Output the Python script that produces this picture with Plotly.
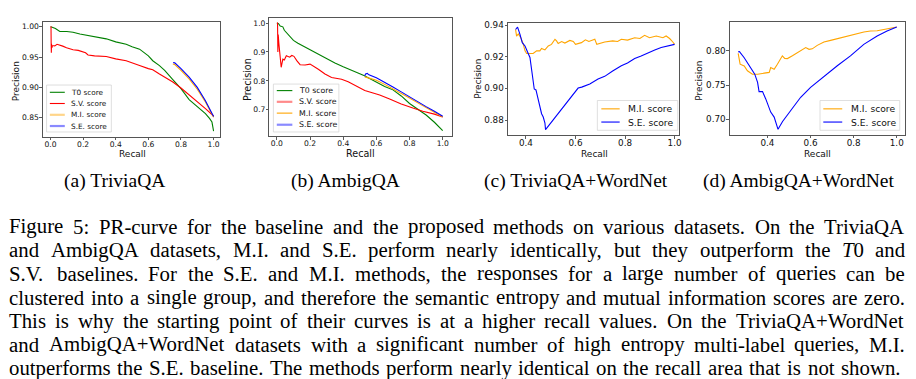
import plotly.graph_objects as go

W, H = 916, 379

# ---------------- data ----------------
a_t0_recall = [0.0, 0.005, 0.01, 0.03, 0.057, 0.1, 0.138, 0.18, 0.22, 0.26, 0.3, 0.342, 0.4, 0.464, 0.5, 0.546, 0.6, 0.627, 0.668, 0.7, 0.75, 0.8, 0.85, 0.9, 0.95, 0.975, 0.99, 1.0]
a_t0_precision = [1.0, 1.0, 0.999, 0.997, 0.992, 0.992, 0.991, 0.988, 0.986, 0.984, 0.982, 0.980, 0.975, 0.971, 0.967, 0.963, 0.952, 0.944, 0.936, 0.928, 0.913, 0.898, 0.880, 0.868, 0.857, 0.849, 0.843, 0.828]
a_sv_recall = [0.0, 0.003, 0.004, 0.005, 0.006, 0.008, 0.012, 0.026, 0.04, 0.057, 0.075, 0.098, 0.12, 0.138, 0.17, 0.2, 0.215, 0.23, 0.27, 0.342, 0.4, 0.464, 0.5, 0.546, 0.6, 0.627, 0.668, 0.7, 0.75, 0.8, 0.85, 0.9, 0.95, 1.0]
a_sv_precision = [1.0, 1.0, 0.97, 0.957, 0.972, 0.965, 0.969, 0.9685, 0.971, 0.970, 0.968, 0.9655, 0.963, 0.962, 0.961, 0.959, 0.957, 0.9535, 0.952, 0.951, 0.947, 0.944, 0.940, 0.936, 0.931, 0.929, 0.922, 0.917, 0.909, 0.899, 0.888, 0.876, 0.865, 0.853]
a_mi_recall = [0.75, 0.76, 0.8, 0.85, 0.9, 0.95, 1.0]
a_mi_precision = [0.9385, 0.938, 0.928, 0.914, 0.897, 0.876, 0.851]
a_se_recall = [0.752, 0.762, 0.8, 0.85, 0.9, 0.95, 1.0]
a_se_precision = [0.941, 0.9405, 0.931, 0.917, 0.900, 0.878, 0.852]

b_t0_recall = [0.0, 0.01, 0.02, 0.036, 0.045, 0.057, 0.07, 0.087, 0.1, 0.127, 0.15, 0.2, 0.227, 0.25, 0.3, 0.328, 0.35, 0.4, 0.428, 0.45, 0.5, 0.528, 0.55, 0.6, 0.63, 0.65, 0.7, 0.75, 0.8, 0.85, 0.88, 0.9, 0.95, 1.0]
b_t0_precision = [1.0, 0.998, 0.99, 0.987, 0.975, 0.967, 0.96, 0.95, 0.94, 0.93, 0.923, 0.906, 0.898, 0.891, 0.877, 0.869, 0.862, 0.849, 0.843, 0.836, 0.825, 0.818, 0.811, 0.797, 0.787, 0.781, 0.769, 0.748, 0.722, 0.703, 0.692, 0.682, 0.657, 0.628]
b_sv_recall = [0.0, 0.004, 0.006, 0.008, 0.012, 0.018, 0.026, 0.036, 0.045, 0.057, 0.077, 0.09, 0.103, 0.12, 0.14, 0.17, 0.2, 0.25, 0.29, 0.33, 0.39, 0.43, 0.47, 0.53, 0.58, 0.62, 0.68, 0.75, 0.82, 0.88, 0.95, 1.0]
b_sv_precision = [1.0, 1.0, 0.90, 0.96, 0.93, 0.88, 0.847, 0.875, 0.872, 0.887, 0.882, 0.888, 0.885, 0.87, 0.856, 0.855, 0.858, 0.840, 0.824, 0.812, 0.806, 0.797, 0.785, 0.767, 0.758, 0.751, 0.737, 0.72, 0.706, 0.695, 0.685, 0.675]
b_mi_recall = [0.53, 0.54, 0.56, 0.6, 0.65, 0.7, 0.75, 0.8, 0.85, 0.9, 0.95, 1.0]
b_mi_precision = [0.814, 0.812, 0.808, 0.802, 0.788, 0.773, 0.758, 0.741, 0.724, 0.708, 0.692, 0.675]
b_se_recall = [0.53, 0.535, 0.545, 0.555, 0.6, 0.65, 0.7, 0.75, 0.8, 0.85, 0.9, 0.95, 1.0]
b_se_precision = [0.818, 0.824, 0.826, 0.821, 0.811, 0.796, 0.779, 0.762, 0.744, 0.727, 0.711, 0.695, 0.678]

c_mi_recall = [0.358, 0.362, 0.369, 0.379, 0.389, 0.396, 0.4026, 0.416, 0.429, 0.443, 0.456, 0.463, 0.4765, 0.49, 0.503, 0.517, 0.5235, 0.53, 0.544, 0.557, 0.577, 0.591, 0.6, 0.624, 0.64, 0.654, 0.678, 0.686, 0.718, 0.75, 0.77, 0.785, 0.81, 0.839, 0.86, 0.879, 0.899, 0.926, 0.953, 0.966, 0.98, 0.993, 1.0]
c_mi_precision = [0.9372, 0.933, 0.9344, 0.932, 0.928, 0.9237, 0.922, 0.9222, 0.922, 0.9237, 0.9237, 0.9252, 0.9243, 0.9268, 0.9278, 0.931, 0.930, 0.9283, 0.9296, 0.9286, 0.9303, 0.9296, 0.9278, 0.9289, 0.9307, 0.9296, 0.931, 0.9278, 0.9293, 0.930, 0.9296, 0.931, 0.9305, 0.932, 0.9315, 0.9335, 0.932, 0.9331, 0.932, 0.9331, 0.9315, 0.9293, 0.9278]
c_se_recall = [0.358, 0.366, 0.3758, 0.385, 0.396, 0.4026, 0.409, 0.416, 0.4226, 0.429, 0.4334, 0.4403, 0.4469, 0.4564, 0.463, 0.4697, 0.4765, 0.479, 0.503, 0.53, 0.557, 0.585, 0.6106, 0.625, 0.6376, 0.6577, 0.691, 0.718, 0.75, 0.785, 0.81, 0.839, 0.865, 0.8925, 0.92, 0.946, 0.975, 1.0]
c_se_precision = [0.9372, 0.9387, 0.9341, 0.9289, 0.9268, 0.9237, 0.922, 0.9195, 0.9112, 0.9049, 0.8996, 0.899, 0.8944, 0.8871, 0.884, 0.8819, 0.8781, 0.8739, 0.8787, 0.8845, 0.8902, 0.8955, 0.9002, 0.9008, 0.9015, 0.9028, 0.9059, 0.9076, 0.911, 0.9143, 0.916, 0.9189, 0.9205, 0.9226, 0.9243, 0.9258, 0.927, 0.9278]

d_mi_recall = [0.264, 0.268, 0.273, 0.292, 0.307, 0.33, 0.354, 0.385, 0.408, 0.415, 0.431, 0.446, 0.469, 0.48, 0.4926, 0.5157, 0.539, 0.562, 0.5775, 0.593, 0.608, 0.631, 0.662, 0.693, 0.724, 0.755, 0.786, 0.817, 0.8475, 0.878, 0.909, 0.94, 0.971, 1.0]
d_mi_precision = [0.7965, 0.79, 0.7806, 0.778, 0.771, 0.766, 0.766, 0.7675, 0.7686, 0.7758, 0.7733, 0.7806, 0.7928, 0.789, 0.7888, 0.7928, 0.7975, 0.8023, 0.8048, 0.8023, 0.803, 0.8081, 0.813, 0.8154, 0.8178, 0.8203, 0.8226, 0.8255, 0.8275, 0.829, 0.8294, 0.8313, 0.8333, 0.8348]
d_se_recall = [0.264, 0.27, 0.292, 0.323, 0.341, 0.354, 0.361, 0.377, 0.392, 0.415, 0.431, 0.449, 0.47, 0.508, 0.554, 0.6, 0.662, 0.724, 0.785, 0.847, 0.909, 0.955, 1.0]
d_se_precision = [0.7986, 0.799, 0.790, 0.7758, 0.766, 0.754, 0.7406, 0.7406, 0.7299, 0.7106, 0.7033, 0.6855, 0.697, 0.713, 0.7323, 0.7468, 0.7628, 0.7783, 0.7928, 0.8096, 0.8217, 0.829, 0.8348]

# tick values / labels
ab_xticks = [0.0, 0.2, 0.4, 0.6, 0.8, 1.0]
cd_xticks = [0.4, 0.6, 0.8, 1.0]
a_yticks = [0.85, 0.90, 0.95, 1.00]
b_yticks = [0.7, 0.8, 0.9, 1.0]
c_yticks = [0.88, 0.90, 0.92, 0.94]
d_yticks = [0.70, 0.75, 0.80]

series_names = ["T0 score", "S.V. score", "M.I. score", "S.E. score"]
subcaptions = ["(a) TriviaQA", "(b) AmbigQA", "(c) TriviaQA+WordNet", "(d) AmbigQA+WordNet"]
caption_lines = [
    "Figure 5: PR-curve for the baseline and the proposed methods on various datasets. On the TriviaQA",
    "and AmbigQA datasets, M.I. and S.E. perform nearly identically, but they outperform the T0 and",
    "S.V. baselines. For the S.E. and M.I. methods, the responses for a large number of queries can be",
    "clustered into a single group, and therefore the semantic entropy and mutual information scores are zero.",
    "This is why the starting point of their curves is at a higher recall values. On the TriviaQA+WordNet",
    "and AmbigQA+WordNet datasets with a significant number of high entropy multi-label queries, M.I.",
    "outperforms the S.E. baseline. The methods perform nearly identical on the recall area that is not shown.",
]

# ---------------- styling ----------------
C_GREEN, C_RED, C_ORANGE, C_BLUE = "#008000", "#ff0000", "#ffa500", "#0000ff"
SANS = "DejaVu Sans"
SERIF = "Liberation Serif"


def px(x):
    return x / W


def py(y):
    return 1 - y / H


fig = go.Figure()

panels = [
    dict(xd=(43, 221), yd=(19, 135), xr=(-0.047, 1.041), yr=(0.8185, 1.008), xt=ab_xticks, xf=".1f",
         yt=a_yticks, yf=".2f", tfs=7.6, lfs=9.0, recall_pos=(132.8, 152), prec_pos=(16.3, 78.7),
         series=[(a_t0_recall, a_t0_precision, C_GREEN), (a_sv_recall, a_sv_precision, C_RED),
                 (a_mi_recall, a_mi_precision, C_ORANGE), (a_se_recall, a_se_precision, C_BLUE)]),
    dict(xd=(270.3, 453.3), yd=(14.7, 134.3), xr=(-0.045, 1.055), yr=(0.6086, 1.019), xt=ab_xticks, xf=".1f",
         yt=b_yticks, yf=".1f", tfs=7.6, lfs=9.6, recall_pos=(362, 151.7), prec_pos=(247.7, 76.7),
         series=[(b_t0_recall, b_t0_precision, C_GREEN), (b_sv_recall, b_sv_precision, C_RED),
                 (b_mi_recall, b_mi_precision, C_ORANGE), (b_se_recall, b_se_precision, C_BLUE)]),
    dict(xd=(509.7, 681), yd=(20, 133.3), xr=(0.3275, 1.017), yr=(0.8704, 0.9414), xt=cd_xticks, xf=".1f",
         yt=c_yticks, yf=".2f", tfs=8.8, lfs=9.0, recall_pos=(596.7, 152.7), prec_pos=(479.3, 76.7),
         series=[(c_mi_recall, c_mi_precision, C_ORANGE), (c_se_recall, c_se_precision, C_BLUE)]),
    dict(xd=(732.3, 907.7), yd=(19.3, 132.7), xr=(0.2256, 1.037), yr=(0.6777, 0.842), xt=cd_xticks, xf=".1f",
         yt=d_yticks, yf=".2f", tfs=8.8, lfs=9.0, recall_pos=(819.7, 152.3), prec_pos=(701.7, 78),
         series=[(d_mi_recall, d_mi_precision, C_ORANGE), (d_se_recall, d_se_precision, C_BLUE)]),
]

layout_axes = {}
annotations = []
shapes = []

for i, p in enumerate(panels, start=1):
    xa = "x" if i == 1 else f"x{i}"
    ya = "y" if i == 1 else f"y{i}"
    for xs, ys, col in p["series"]:
        fig.add_trace(go.Scatter(x=xs, y=ys, mode="lines", xaxis=xa, yaxis=ya,
                                 line=dict(color=col, width=1.1), hoverinfo="skip", showlegend=False))
    common = dict(showgrid=False, zeroline=False, showline=True, mirror=True, linecolor="#555555",
                  linewidth=1, ticks="outside", ticklen=2.5, tickwidth=0.8, tickcolor="#333333",
                  tickfont=dict(family=SANS, size=p["tfs"], color="#111111"))
    layout_axes["xaxis" if i == 1 else f"xaxis{i}"] = dict(
        domain=[px(p["xd"][0]), px(p["xd"][1])], range=list(p["xr"]), anchor=ya,
        tickmode="array", tickvals=p["xt"], tickformat=p["xf"], ticklabelstandoff=-3, **common)
    layout_axes["yaxis" if i == 1 else f"yaxis{i}"] = dict(
        domain=[py(p["yd"][1]), py(p["yd"][0])], range=list(p["yr"]), anchor=xa,
        tickmode="array", tickvals=p["yt"], tickformat=p["yf"], ticklabelstandoff=-1, **common)
    annotations.append(dict(text="Recall", x=px(p["recall_pos"][0]), y=py(p["recall_pos"][1]),
                            xref="paper", yref="paper", showarrow=False, xanchor="center", yanchor="middle",
                            borderpad=0, font=dict(family=SANS, size=p["lfs"], color="#111111")))
    annotations.append(dict(text="Precision", x=px(p["prec_pos"][0]), y=py(p["prec_pos"][1]),
                            xref="paper", yref="paper", showarrow=False, xanchor="center", yanchor="middle",
                            borderpad=0, textangle=-90, font=dict(family=SANS, size=p["lfs"], color="#111111")))

# ---------------- legends (drawn as layout decorations) ----------------
legends = [
    dict(box=(46.7, 82.7, 111.7, 130), rows=[90, 101.3, 112.7, 124], sample=(50, 65), tx=70.5, fs=7.3,
         items=[(series_names[0], C_GREEN, 1.1), (series_names[1], C_RED, 1.1),
                (series_names[2], "#ffd58a", 2.2), (series_names[3], "#8a8aff", 2.2)]),
    dict(box=(274.3, 81.7, 340, 130), rows=[88.3, 99.6, 111, 122.7], sample=(277.7, 293.3), tx=299, fs=7.8,
         items=[(series_names[0], C_GREEN, 1.1), (series_names[1], "#ff8a8a", 2.2),
                (series_names[2], C_ORANGE, 1.1), (series_names[3], "#8a8aff", 2.2)]),
    dict(box=(599.3, 98.3, 680, 128.3), rows=[106.7, 120], sample=(603.3, 621.7), tx=629.5, fs=9.2,
         items=[(series_names[2], C_ORANGE, 1.1), (series_names[3], C_BLUE, 1.1)]),
    dict(box=(822.7, 98.3, 902.7, 128.3), rows=[106.7, 120], sample=(826, 845), tx=852.5, fs=9.2,
         items=[(series_names[2], C_ORANGE, 1.1), (series_names[3], C_BLUE, 1.1)]),
]
for lg in legends:
    x0, y0, x1, y1 = lg["box"]
    shapes.append(dict(type="rect", xref="paper", yref="paper", x0=px(x0), x1=px(x1), y0=py(y1), y1=py(y0),
                       line=dict(color="#d6d6d6", width=0.8), fillcolor="rgba(255,255,255,0.85)", layer="above"))
    for (name, col, lw), ry in zip(lg["items"], lg["rows"]):
        shapes.append(dict(type="line", xref="paper", yref="paper", x0=px(lg["sample"][0]), x1=px(lg["sample"][1]),
                           y0=py(ry), y1=py(ry), line=dict(color=col, width=lw), layer="above"))
        annotations.append(dict(text=name, x=px(lg["tx"]), y=py(ry), xref="paper", yref="paper",
                                showarrow=False, xanchor="left", yanchor="middle", borderpad=0,
                                font=dict(family=SANS, size=lg["fs"], color="#111111")))

# ---------------- sub-captions ----------------
sub_centers = [115, 347, 577.4, 801]
for txt, cx in zip(subcaptions, sub_centers):
    annotations.append(dict(text=txt, x=px(cx), y=py(179.5), xref="paper", yref="paper", showarrow=False,
                            xanchor="center", yanchor="middle", borderpad=0,
                            font=dict(family=SERIF, size=19.5, color="#000000")))

# ---------------- justified figure caption ----------------
TIMES = {" ": 250, "(": 333, ")": 333, "+": 564, ",": 250, "-": 333, ".": 250, ":": 278,
         "A": 722, "B": 667, "C": 667, "D": 722, "E": 611, "F": 556, "G": 722, "H": 722, "I": 333,
         "J": 389, "K": 722, "L": 611, "M": 889, "N": 722, "O": 722, "P": 556, "Q": 722, "R": 667,
         "S": 556, "T": 611, "U": 722, "V": 722, "W": 944, "X": 722, "Y": 722, "Z": 611,
         "a": 444, "b": 500, "c": 444, "d": 500, "e": 444, "f": 333, "g": 500, "h": 500, "i": 278,
         "j": 278, "k": 500, "l": 278, "m": 778, "n": 500, "o": 500, "p": 500, "q": 500, "r": 333,
         "s": 389, "t": 278, "u": 500, "v": 500, "w": 722, "x": 500, "y": 500, "z": 444}


def word_em(word):
    if word == "T0":
        return 0.556 + 0.5
    return sum(TIMES.get(ch, 500) for ch in word) / 1000.0


LEFT, RIGHT = 9.3, 908.0
fs_cap = 20.8
for ln in caption_lines[:-1]:
    words = ln.split(" ")
    need = sum(word_em(w) for w in words) + 0.2 * (len(words) - 1)
    fs_cap = min(fs_cap, (RIGHT - LEFT) / need)

base0, lead = 231.7, 23.8
for li, ln in enumerate(caption_lines):
    words = ln.split(" ")
    widths = [word_em(w) * fs_cap for w in words]
    right = RIGHT if li < len(caption_lines) - 1 else 903.0
    gap = (right - LEFT - sum(widths)) / (len(words) - 1)
    x = LEFT
    yc = base0 + li * lead - 0.30 * fs_cap - 0.5
    for w, wd in zip(words, widths):
        annotations.append(dict(text=("<i>T</i>0" if w == "T0" else w), x=px(x), y=py(yc),
                                xref="paper", yref="paper", showarrow=False, xanchor="left",
                                yanchor="middle", borderpad=0, borderwidth=0,
                                font=dict(family=SERIF, size=fs_cap, color="#000000")))
        x += wd + gap

fig.update_layout(width=W, height=H, margin=dict(l=0, r=0, t=0, b=0), autosize=False,
                  paper_bgcolor="white", plot_bgcolor="white", showlegend=False,
                  annotations=annotations, shapes=shapes, **layout_axes)

fig.write_html("out.html", config={"displayModeBar": False, "staticPlot": True},
               post_script="document.body.style.margin='0px';document.body.style.overflow='hidden';")
